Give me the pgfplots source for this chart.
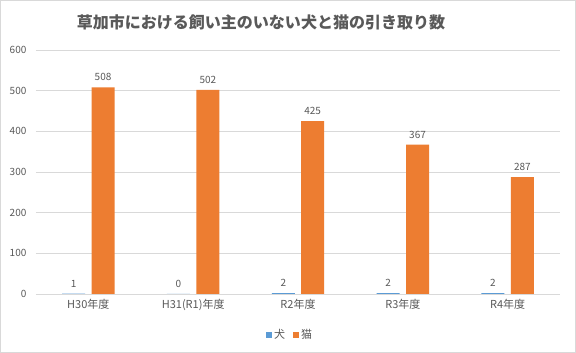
\documentclass[border=0pt]{standalone}
\usepackage{pgfplots}
\pgfplotsset{compat=1.18}
\usepackage{fontspec}
\setmainfont{Noto Sans CJK JP}
\definecolor{dogc}{HTML}{5B9BD5}
\definecolor{catc}{HTML}{ED7D31}
\definecolor{gridc}{HTML}{D9D9D9}
\definecolor{textc}{HTML}{595959}
\begin{document}
\begin{tikzpicture}[x=1pt,y=1pt]
\draw[draw=gridc, fill=white, line width=0.8pt] (0.5,0.5) rectangle (575.5,352.5);
\node[font=\fontsize{16}{19}\selectfont\bfseries, text=textc] at (261,330) {草加市における飼い主のいない犬と猫の引き取り数};
\begin{axis}[
  at={(36pt,59pt)}, anchor=south west,
  scale only axis, width=524pt, height=244pt,
  ymin=0, ymax=600, xmin=-0.5, xmax=4.5,
  ybar=6.4pt, bar width=23pt,
  xtick={0,1,2,3,4},
  xticklabels={H30年度,H31(R1)年度,R2年度,R3年度,R4年度},
  ytick={0,100,200,300,400,500,600},
  ymajorgrids, grid style={draw=gridc, line width=0.8pt},
  axis line style={draw=none},
  major tick length=0pt,
  /pgf/number format/assume math mode=true,
  tick label style={font=\fontsize{10}{12}\selectfont, text=textc},
  xticklabel style={font=\fontsize{11}{13}\selectfont, yshift=-2pt},
  yticklabel style={xshift=-6pt},
  nodes near coords,
  nodes near coords style={font=\fontsize{10}{12}\selectfont, text=textc, yshift=3pt, /pgf/number format/assume math mode=true},
  legend style={at={(rel axis cs:0.485,-0.168)}, anchor=center, draw=none, fill=none,
    legend columns=-1, font=\fontsize{11}{13}\selectfont, text=textc,
    /tikz/every even column/.append style={column sep=6pt}},
  legend image code/.code={\fill[#1] (0pt,-3pt) rectangle (6pt,3pt);},
]
\addplot[fill=dogc, draw=none] coordinates {(0,1) (1,0) (2,2) (3,2) (4,2)};
\addplot[fill=catc, draw=none] coordinates {(0,508) (1,502) (2,425) (3,367) (4,287)};
\legend{犬,猫}
\end{axis}
\end{tikzpicture}
\end{document}
